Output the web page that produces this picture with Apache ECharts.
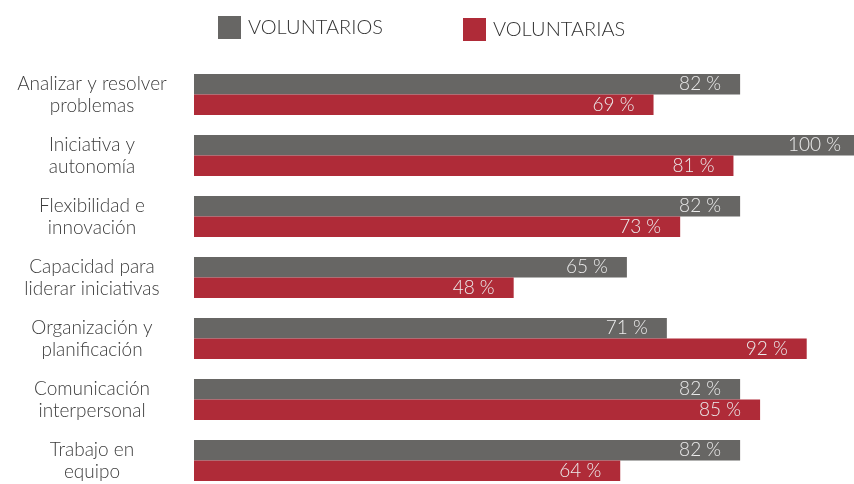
<!DOCTYPE html>
<html>
<head>
<meta charset="utf-8">
<script src="https://cdn.jsdelivr.net/npm/echarts@6/dist/echarts.min.js"></script>
<style>
  html, body { margin: 0; padding: 0; background: #fff; }
  #chart { width: 854px; height: 484px; }
</style>
</head>
<body>
<div id="chart"></div>
<script>
// datos
const competencias = [
  'Analizar y resolver\nproblemas',
  'Iniciativa y\nautonomía',
  'Flexibilidad e\ninnovación',
  'Capacidad para\nliderar iniciativas',
  'Organización y\nplanificación',
  'Comunicación\ninterpersonal',
  'Trabajo en\nequipo'
]
const voluntarios = [82, 100, 82, 65, 71, 82, 82]
const voluntarias = [69, 81, 73, 48, 92, 85, 64]

const GRIS = '#676664'
const ROJO = '#AF2B38'
const fuente = 'Lato'

const chart = echarts.init(document.getElementById('chart'))

const etiqueta = {
  show: true,
  position: 'insideRight',
  distance: 19,
  formatter: '{c} %',
  color: '#ececec',
  fontFamily: fuente,
  fontWeight: 300,
  fontSize: 19
}

const leyendaTexto = { color: '#333', fontFamily: fuente, fontWeight: 300, fontSize: 20, padding: [0, 0, 0, 2] }

chart.setOption({
  animation: false,
  legend: [
    {
      data: ['VOLUNTARIOS'],
      left: 213, top: 11,
      itemWidth: 23, itemHeight: 23, itemGap: 0,
      icon: 'rect',
      textStyle: leyendaTexto
    },
    {
      data: ['VOLUNTARIAS'],
      left: 458, top: 13,
      itemWidth: 23, itemHeight: 23, itemGap: 0,
      icon: 'rect',
      textStyle: leyendaTexto
    }
  ],
  // la escala del original rebasa el borde derecho: 100 % termina fuera del lienzo
  grid: { left: 194, right: 0, top: 94.5, bottom: 23.5, containLabel: false, outerBoundsMode: 'none' },
  xAxis: {
    type: 'value',
    min: 0, max: 99.1,
    show: false
  },
  yAxis: {
    type: 'category',
    inverse: true,
    boundaryGap: false,
    data: competencias,
    axisLine: { show: false },
    axisTick: { show: false },
    splitLine: { show: false },
    axisLabel: {
      interval: 0,
      showMinLabel: true,
      showMaxLabel: true,
      hideOverlap: false,
      margin: 102,
      align: 'center',
      color: '#3c3c3c',
      fontFamily: fuente,
      fontWeight: 300,
      fontSize: 19,
      lineHeight: 22,
      padding: [0, 0, 19, 0]
    }
  },
  series: [
    {
      name: 'VOLUNTARIOS',
      type: 'bar',
      data: voluntarios,
      clip: false,
      barGap: '0%',
      barCategoryGap: '33%',
      itemStyle: { color: GRIS },
      label: etiqueta
    },
    {
      name: 'VOLUNTARIAS',
      type: 'bar',
      data: voluntarias,
      clip: false,
      itemStyle: { color: ROJO },
      label: etiqueta
    }
  ]
})
</script>
</body>
</html>
